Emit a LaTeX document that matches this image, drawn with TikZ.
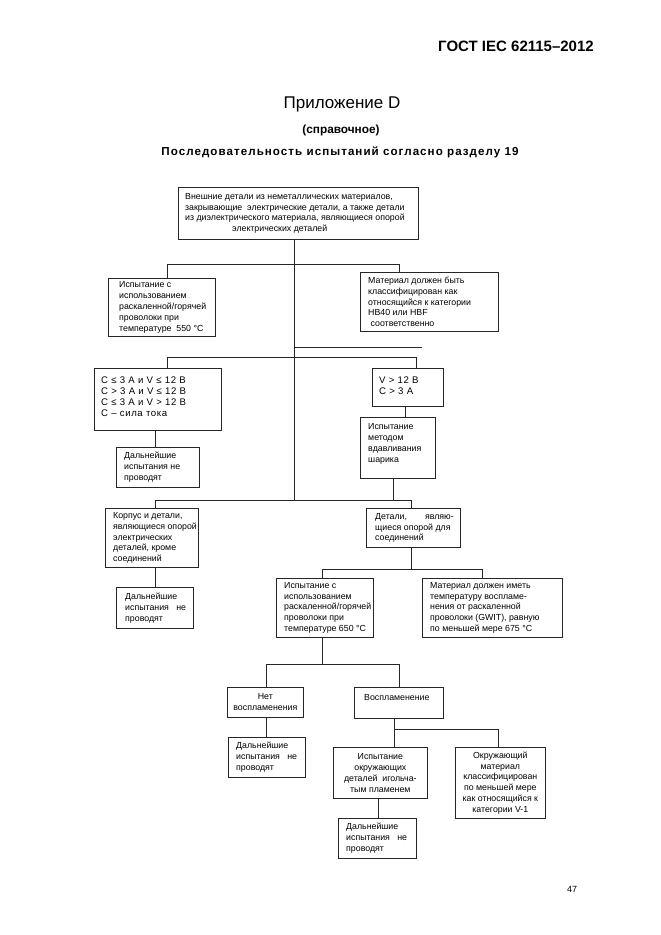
\documentclass[tikz,border=0pt]{standalone}
\usepackage{fontspec}
\setmainfont{Liberation Sans}
\begin{document}
\begin{tikzpicture}[x=1pt,y=-1pt,
  bx/.style={draw=black!85, line width=0.7pt, rectangle, anchor=north west, inner sep=0pt},
  tx/.style={anchor=west, inner sep=0pt, align=left, font=\fontsize{8.8}{10.8}\selectfont},
  txc/.style={anchor=center, inner sep=0pt, align=center, font=\fontsize{8.8}{10.8}\selectfont},
  txb/.style={tx, font=\fontsize{9.6}{11}\addfontfeature{LetterSpace=6}\selectfont},
  ln/.style={draw=black!85, line width=0.7pt}]
\useasboundingbox (0,0) rectangle (661,935);
% headings
\node[font=\fontsize{15}{17}\bfseries\selectfont, anchor=center] (hdr) at (516,46) {ГОСТ IEC 62115–2012};
\node[font=\fontsize{17}{19}\selectfont] (t1) at (342,104) {Приложение D};
\node[font=\fontsize{11.8}{13}\bfseries\selectfont] (t2) at (341,130) {(справочное)};
\node[font=\fontsize{11.6}{13}\bfseries\addfontfeature{LetterSpace=9}\selectfont] (t3) at (340,152) {Последовательность испытаний согласно разделу 19};
\node[font=\fontsize{9}{11}\selectfont] (pg) at (572,889) {47};
% boxes
\node[bx, minimum width=240pt, minimum height=52pt] (top) at (178,187) {};
\node[tx, xshift=7pt] (topt) at (top.west)
 {Внешние детали из неметаллических материалов,\\закрывающие\ \ электрические детали, а также детали\\из диэлектрического материала, являющиеся опорой\\\hspace*{47pt}электрических деталей};
\node[bx, minimum width=107pt, minimum height=58pt] (A) at (108,278) {};
\node[tx, xshift=11pt] (At) at (A.west)
 {Испытание с\\использованием\\раскаленной/горячей\\проволоки при\\температуре\ \ 550 °C};
\node[bx, minimum width=138pt, minimum height=59pt] (B) at (360,272) {};
\node[tx, xshift=8pt] (Bt) at (B.west)
 {Материал должен быть\\классифицирован как\\относящийся к категории\\HB40 или HBF\\\ соответственно};
\node[bx, minimum width=127pt, minimum height=62pt] (C) at (94,368) {};
\node[txb, xshift=7pt, yshift=3pt] (Ct) at (C.west)
 {C ≤ 3 A и V ≤ 12 B\\C > 3 A и V ≤ 12 B\\C ≤ 3 A и V > 12 B\\C – сила тока};
\node[bx, minimum width=71pt, minimum height=38pt] (D) at (372,368) {};
\node[txb, xshift=7pt, yshift=2pt] (Dt) at (D.west)
 {V > 12 B\\C > 3 A};
\node[bx, minimum width=83pt, minimum height=40pt] (E) at (116,447) {};
\node[tx, xshift=8pt] (Et) at (E.west)
 {Дальнейшие\\испытания не\\проводят};
\node[bx, minimum width=75pt, minimum height=61pt] (F) at (360,417) {};
\node[tx, xshift=8pt, yshift=4pt] (Ft) at (F.west)
 {Испытание\\методом\\вдавливания\\шарика};
\node[bx, minimum width=93pt, minimum height=59pt] (G) at (105,508) {};
\node[tx, xshift=8pt] (Gt) at (G.west)
 {Корпус и детали,\\являющиеся опорой\\электрических\\деталей, кроме\\соединений};
\node[bx, minimum width=94pt, minimum height=39pt] (H) at (366,508) {};
\node[tx, xshift=9pt] (Ht) at (H.west)
 {Детали,\hspace{18pt}являю-\\щиеся опорой для\\соединений};
\node[bx, minimum width=77pt, minimum height=41pt] (I) at (116,587) {};
\node[tx, xshift=9pt] (It) at (I.west)
 {Дальнейшие\\испытания\ \ \ не\\проводят};
\node[bx, minimum width=97pt, minimum height=59pt] (J) at (276,578) {};
\node[tx, xshift=8pt] (Jt) at (J.west)
 {Испытание с\\использованием\\раскаленной/горячей\\проволоки при\\температуре 650 °C};
\node[bx, minimum width=140pt, minimum height=59pt] (K) at (422,578) {};
\node[tx, xshift=8pt] (Kt) at (K.west)
 {Материал должен иметь\\температуру воспламе-\\нения от раскаленной\\проволоки (GWIT), равную\\по меньшей мере 675 °C};
\node[bx, minimum width=76pt, minimum height=30pt] (L) at (227,687) {};
\node[txc] (Lt) at (L.center)
 {Нет\\воспламенения};
\node[bx, minimum width=89pt, minimum height=31pt] (M) at (354,687) {};
\node[tx, xshift=10pt, yshift=5pt] (Mt) at (M.west)
 {Воспламенение};
\node[bx, minimum width=77pt, minimum height=40pt] (N) at (228,737) {};
\node[tx, xshift=8pt] (Nt) at (N.west)
 {Дальнейшие\\испытания\ \ \ не\\проводят};
\node[bx, minimum width=94pt, minimum height=51pt] (O) at (333,747) {};
\node[txc] (Ot) at (O.center)
 {Испытание\\окружающих\\деталей\ \ игольча-\\тым пламенем};
\node[bx, minimum width=90pt, minimum height=71pt] (P) at (455,747) {};
\node[txc] (Pt) at (P.center)
 {Окружающий\\материал\\классифицирован\\по меньшей мере\\как относящийся к\\категории V-1};
\node[bx, minimum width=78pt, minimum height=40pt] (Q) at (338,818) {};
\node[tx, xshift=8pt] (Qt) at (Q.west)
 {Дальнейшие\\испытания\ \ \ не\\проводят};
% junction coordinates
\coordinate (h1L) at (167,264); \coordinate (h1R) at (399,264);
\coordinate (x1) at (422,347);
\coordinate (h2L) at (167,357); \coordinate (h2R) at (416,357);
\coordinate (h3L) at (155,500); \coordinate (h3R) at (411,500);
\coordinate (tr) at (294,500);
\coordinate (h4L) at (322,569); \coordinate (h4R) at (482,569);
\coordinate (h5L) at (266,664); \coordinate (h5R) at (399,664); \coordinate (h5C) at (322,664);
\coordinate (h6L) at (394,729); \coordinate (h6R) at (498,729);
% connectors
\draw[ln] (top.south -| tr) -- (tr);
\draw[ln] (A.north -| h1L) -- (h1L) -- (h1R) -- (B.north -| h1R);
\draw[ln] (x1 -| tr) -- (x1);
\draw[ln] (C.north -| h2L) -- (h2L) -- (h2R) -- (D.north -| h2R);
\draw[ln] (C.south -| 155,0) -- (E.north -| 155,0);
\draw[ln] (D.south -| 405,0) -- (F.north -| 405,0);
\draw[ln] (F.south -| 393,0) -- (393,500);
\draw[ln] (G.north -| h3L) -- (h3L) -- (h3R) -- (H.north -| h3R);
\draw[ln] (G.south -| 155,0) -- (I.north -| 155,0);
\draw[ln] (H.south -| h3R) -- (h4L -| h3R);
\draw[ln] (J.north -| h4L) -- (h4L) -- (h4R) -- (K.north -| h4R);
\draw[ln] (J.south -| h5C) -- (h5C);
\draw[ln] (L.north -| h5L) -- (h5L) -- (h5R) -- (M.north -| h5R);
\draw[ln] (L.south -| h5L) -- (N.north -| h5L);
\draw[ln] (M.south -| h6L) -- (h6L) -- (h6R) -- (P.north -| h6R);
\draw[ln] (h6L) -- (O.north -| h6L);
\draw[ln] (O.south -| 378,0) -- (Q.north -| 378,0);
\end{tikzpicture}
\end{document}
